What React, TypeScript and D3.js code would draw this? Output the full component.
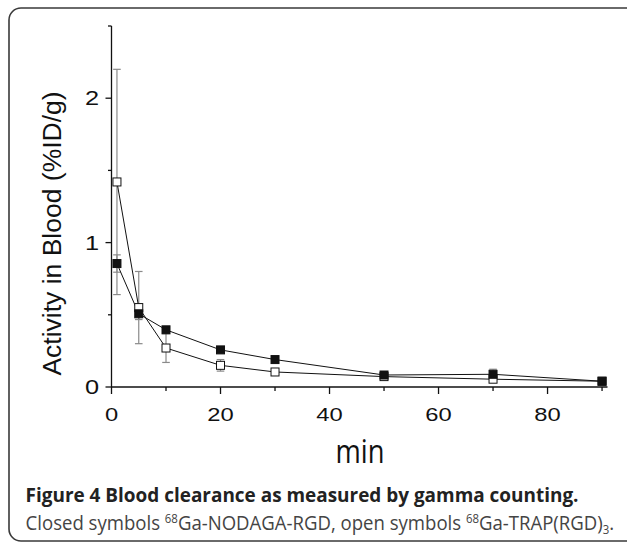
import React, { useEffect, useRef } from 'react';
import * as d3 from 'd3';

const times = [1, 5, 10, 20, 30, 50, 70, 90];
const nodagaMean = [0.855, 0.507, 0.396, 0.257, 0.19, 0.083, 0.088, 0.04];
const nodagaSd = [0.06, 0.04, 0.02, 0.015, 0.01, 0.01, 0.035, 0.01];
const trapMean = [1.42, 0.55, 0.27, 0.15, 0.104, 0.072, 0.054, 0.04];
const trapSd = [0.78, 0.25, 0.1, 0.04, 0.015, 0.01, 0.02, 0.012];

const xMajorTicks = [0, 20, 40, 60, 80];
const xMinorTicks = [10, 30, 50, 70, 90];
const yMajorTicks = [0, 1, 2];
const yMinorTicks = [0.5, 1.5, 2.5];

const yAxisTitle = 'Activity in Blood (%ID/g)';
const xAxisTitle = 'min';
const captionTitle = 'Figure 4 Blood clearance as measured by gamma counting.';

export default function App() {
  const ref = useRef<SVGSVGElement>(null);

  useEffect(() => {
    const svg = d3.select(ref.current);
    svg.selectAll('*').remove();

    const x = d3.scaleLinear().domain([0, 91]).range([111.5, 607.5]);
    const y = d3.scaleLinear().domain([0, 2.5]).range([387, 26]);

    // frame
    svg.append('path')
      .attr('d', 'M 660 8 H 21 A 12 12 0 0 0 9 20 V 529 A 12 12 0 0 0 21 541 H 660')
      .attr('fill', 'none').attr('stroke', '#3a3a3a').attr('stroke-width', 1.6);

    const tickFont = "'Liberation Sans', Arial, Helvetica, sans-serif";

    // axes
    const ax = svg.append('g').attr('stroke', '#111').attr('stroke-width', 1.3);
    ax.append('line').attr('x1', x(0)).attr('x2', x(0)).attr('y1', y(0)).attr('y2', y(2.5));
    ax.append('line').attr('x1', x(0)).attr('x2', x(91)).attr('y1', y(0)).attr('y2', y(0));
    xMajorTicks.forEach(t => ax.append('line').attr('x1', x(t)).attr('x2', x(t)).attr('y1', y(0)).attr('y2', y(0) + 7));
    xMinorTicks.forEach(t => ax.append('line').attr('x1', x(t)).attr('x2', x(t)).attr('y1', y(0)).attr('y2', y(0) + 4));
    yMajorTicks.forEach(t => ax.append('line').attr('x1', x(0)).attr('x2', x(0) - 6).attr('y1', y(t)).attr('y2', y(t)));
    yMinorTicks.forEach(t => ax.append('line').attr('x1', x(0)).attr('x2', x(0) - 3.5).attr('y1', y(t)).attr('y2', y(t)));

    // tick labels
    xMajorTicks.forEach(t => {
      svg.append('g').attr('transform', `translate(${x(t)},${420.5}) scale(1.25,1)`)
        .append('text').attr('text-anchor', 'middle').attr('font-family', tickFont)
        .attr('font-size', 19).attr('fill', '#111').text(String(t));
    });
    yMajorTicks.forEach(t => {
      svg.append('g').attr('transform', `translate(${99},${y(t) + 7}) scale(1.3,1)`)
        .append('text').attr('text-anchor', 'end').attr('font-family', tickFont)
        .attr('font-size', 19.5).attr('fill', '#111').text(String(t));
    });

    // axis titles
    svg.append('text')
      .attr('transform', `translate(61,${233.5}) rotate(-90)`)
      .attr('text-anchor', 'middle').attr('font-family', tickFont)
      .attr('font-size', 26.5).attr('fill', '#111').text(yAxisTitle);

    const fitText = (txt: any, target: number) => {
      const len = (txt.node() as SVGTextElement).getComputedTextLength();
      return target / len;
    };

    const minG = svg.append('g');
    const minT = minG.append('text').attr('text-anchor', 'middle').attr('font-family', "'Open Sans', sans-serif")
      .attr('font-size', 32).attr('fill', '#111').text(xAxisTitle);
    const kMin = fitText(minT, 49);
    minG.attr('transform', `translate(360,463) scale(${kMin},1)`);

    // error bars
    const err = svg.append('g').attr('stroke', '#8a8a8a').attr('stroke-width', 1.2);
    const drawErr = (means: number[], sds: number[]) => {
      times.forEach((t, i) => {
        const cx = x(t);
        const y1 = y(means[i] + sds[i]);
        const y2 = y(means[i] - sds[i]);
        err.append('line').attr('x1', cx).attr('x2', cx).attr('y1', y1).attr('y2', y2);
        err.append('line').attr('x1', cx - 3.8).attr('x2', cx + 3.8).attr('y1', y1).attr('y2', y1);
        err.append('line').attr('x1', cx - 3.8).attr('x2', cx + 3.8).attr('y1', y2).attr('y2', y2);
      });
    };
    drawErr(trapMean, trapSd);
    drawErr(nodagaMean, nodagaSd);

    // lines
    const line = d3.line<number>().x((_, i) => x(times[i])).y(d => y(d));
    svg.append('path').attr('d', line(trapMean)).attr('fill', 'none').attr('stroke', '#111').attr('stroke-width', 1);
    svg.append('path').attr('d', line(nodagaMean)).attr('fill', 'none').attr('stroke', '#111').attr('stroke-width', 1);

    // markers
    const s = 8;
    svg.append('g').selectAll('rect').data(trapMean).join('rect')
      .attr('x', (_, i) => x(times[i]) - s / 2).attr('y', d => y(d) - s / 2)
      .attr('width', s).attr('height', s).attr('fill', '#fff').attr('stroke', '#111').attr('stroke-width', 1);
    svg.append('g').selectAll('rect').data(nodagaMean).join('rect')
      .attr('x', (_, i) => x(times[i]) - s / 2).attr('y', d => y(d) - s / 2)
      .attr('width', s).attr('height', s).attr('fill', '#111').attr('stroke', '#111').attr('stroke-width', 1);

    // caption
    const capFont = "'Open Sans', 'Noto Sans', sans-serif";
    const c1G = svg.append('g');
    const c1 = c1G.append('text').attr('font-family', capFont).attr('font-weight', 'bold')
      .attr('font-size', 19.5).attr('fill', '#222').text(captionTitle);
    const k1 = fitText(c1, 553);
    c1G.attr('transform', `translate(25.6,502) scale(${k1},1)`);

    const c2G = svg.append('g');
    const c2 = c2G.append('text').attr('font-family', capFont).attr('font-size', 19.5).attr('fill', '#444');
    c2.append('tspan').text('Closed symbols ');
    c2.append('tspan').attr('font-size', 12).attr('dy', -7).text('68');
    c2.append('tspan').attr('dy', 7).text('Ga-NODAGA-RGD, open symbols ');
    c2.append('tspan').attr('font-size', 12).attr('dy', -7).text('68');
    c2.append('tspan').attr('dy', 7).text('Ga-TRAP(RGD)');
    c2.append('tspan').attr('font-size', 12).attr('dy', 4).text('3');
    c2.append('tspan').attr('dy', -4).text('.');
    const k2 = fitText(c2, 589);
    c2G.attr('transform', `translate(25.6,529.5) scale(${k2},1)`);
  }, []);

  return (
    <svg ref={ref} width={627} height={542}
      style={{ position: 'absolute', left: 0, top: 0, background: '#fff' }} />
  );
}
